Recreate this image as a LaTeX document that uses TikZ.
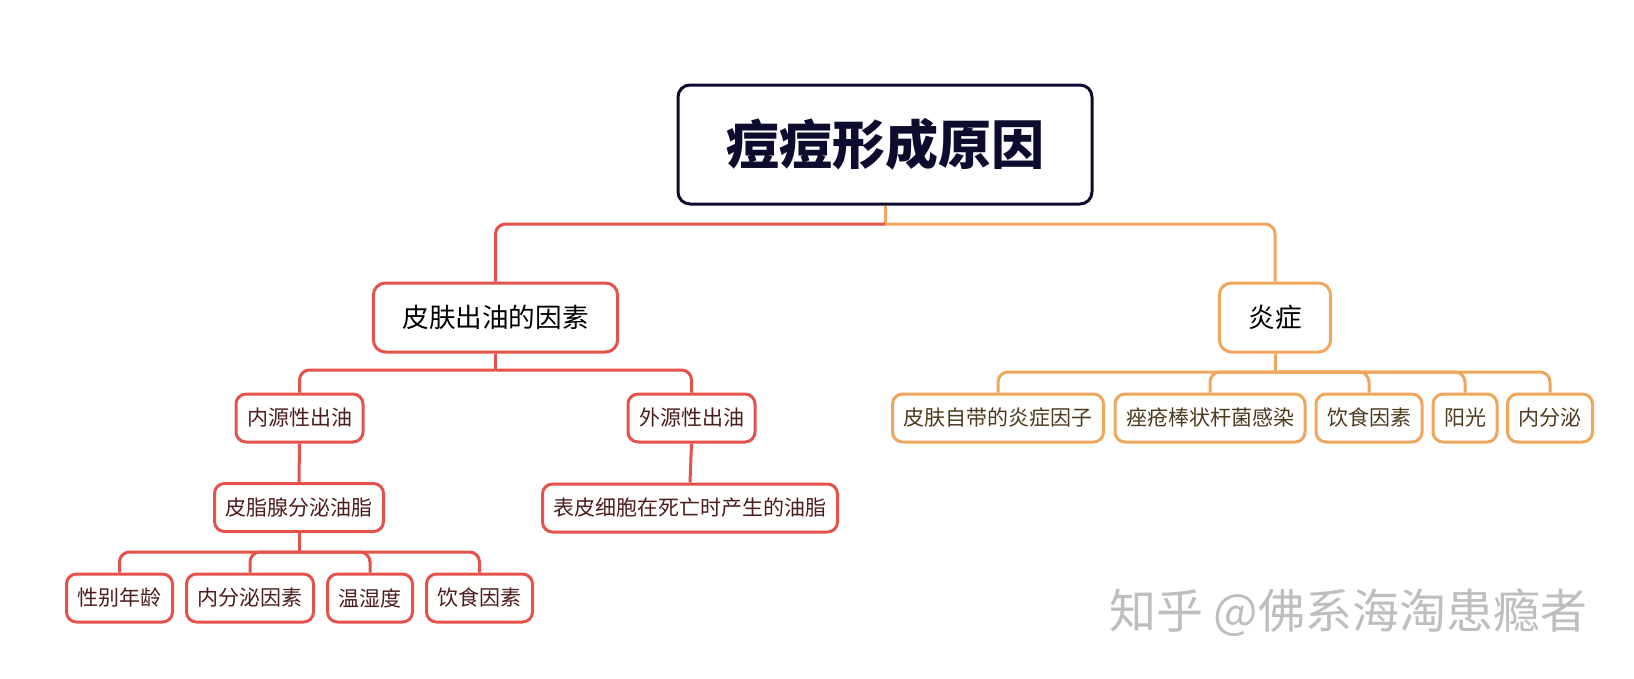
\documentclass[tikz,border=0pt]{standalone}
\usepackage{fontspec}
\newfontfamily\cjk{Noto Sans CJK SC}
\usetikzlibrary{positioning}
\definecolor{acnered}{RGB}{228,82,76}
\definecolor{acneorange}{RGB}{240,166,92}
\definecolor{titlenavy}{RGB}{14,12,46}
\definecolor{leafred}{RGB}{78,28,28}
\definecolor{leafbrown}{RGB}{78,58,30}
\definecolor{markgray}{RGB}{190,190,190}

\begin{document}
\begin{tikzpicture}[x=1pt,y=-1pt,
titlebox/.style={draw=titlenavy,line width=3pt,rounded corners=12pt,fill=white,text=titlenavy,
minimum width=414pt,minimum height=119pt,font=\cjk\bfseries\fontsize{53}{60}\selectfont},
headbox/.style={draw,line width=3pt,rounded corners=12pt,fill=white,text=black,
minimum height=69pt,inner xsep=29pt,font=\cjk\fontsize{26.6}{30}\selectfont},
leafbox/.style={draw,line width=3pt,rounded corners=10pt,fill=white,
minimum height=48pt,inner xsep=11pt,font=\cjk\fontsize{21}{25}\selectfont},
redleaf/.style={leafbox,draw=acnered,text=leafred},
orangeleaf/.style={leafbox,draw=acneorange,text=leafbrown},
redlink/.style={draw=acnered,line width=3pt,rounded corners=10pt},
orangelink/.style={draw=acneorange,line width=3pt,rounded corners=10pt}
]
\useasboundingbox (0,0) rectangle (1634,678);
\node[titlebox] (title) at (885,144.5) {痘痘形成原因};
\node[headbox,draw=acnered] (skin) at (495.5,317.5) {皮肤出油的因素};
\node[headbox,draw=acneorange] (inflam) at (1275,317.5) {炎症};
% oil side
\node[redleaf] (endo) at (299.5,418) {内源性出油};
\node[redleaf] (exo) at (691.5,418) {外源性出油};
\node[redleaf] (sebum) at (299,507.5) {皮脂腺分泌油脂};
\node[redleaf] (dead) at (690,508) {表皮细胞在死亡时产生的油脂};
\node[redleaf] (age) at (119.5,598) {性别年龄};
\node[redleaf] (hormA) at (250,598) {内分泌因素};
\node[redleaf] (humid) at (370,598) {温湿度};
\node[redleaf] (dietA) at (479.5,598) {饮食因素};
% inflammation side
\node[orangeleaf,minimum width=208pt] (factor) at (998,418) {皮肤自带的炎症因子};
\node[orangeleaf] (bact) at (1210,418) {痤疮棒状杆菌感染};
\node[orangeleaf] (dietB) at (1369,418) {饮食因素};
\node[orangeleaf] (sun) at (1465,418) {阳光};
\node[orangeleaf] (hormB) at (1550,418) {内分泌};
\node[font=\cjk\fontsize{47}{52}\selectfont,text=markgray] (mark) at (1348,613) {知乎 @佛系海淘患瘾者};
% junctions
\coordinate (rootjn) at (885,224);
\coordinate (skinjn) at (495.5,370);
\coordinate (sebumjn) at (299,552);
\coordinate (inflamjn) at (1275,372);
\draw[orangelink] (title.south) -- (rootjn);
\draw[redlink] (rootjn) -| (skin.north);
\draw[orangelink] (rootjn) -| (inflam.north);
\draw[redlink] (skin.south) -- (skinjn);
\draw[redlink] (skinjn) -| (endo.north);
\draw[redlink] (skinjn) -| (exo.north);
\draw[redlink] (endo.south) -- (sebum.north);
\draw[redlink] (exo.south) -- (dead.north);
\draw[redlink] (sebum.south) -- (sebumjn);
\foreach \leaf in {age,hormA,humid,dietA}
  \draw[redlink] (sebumjn) -| (\leaf.north);
\draw[orangelink] (inflam.south) -- (inflamjn);
\foreach \leaf in {factor,bact,dietB,sun,hormB}
  \draw[orangelink] (inflamjn) -| (\leaf.north);
\end{tikzpicture}
\end{document}
